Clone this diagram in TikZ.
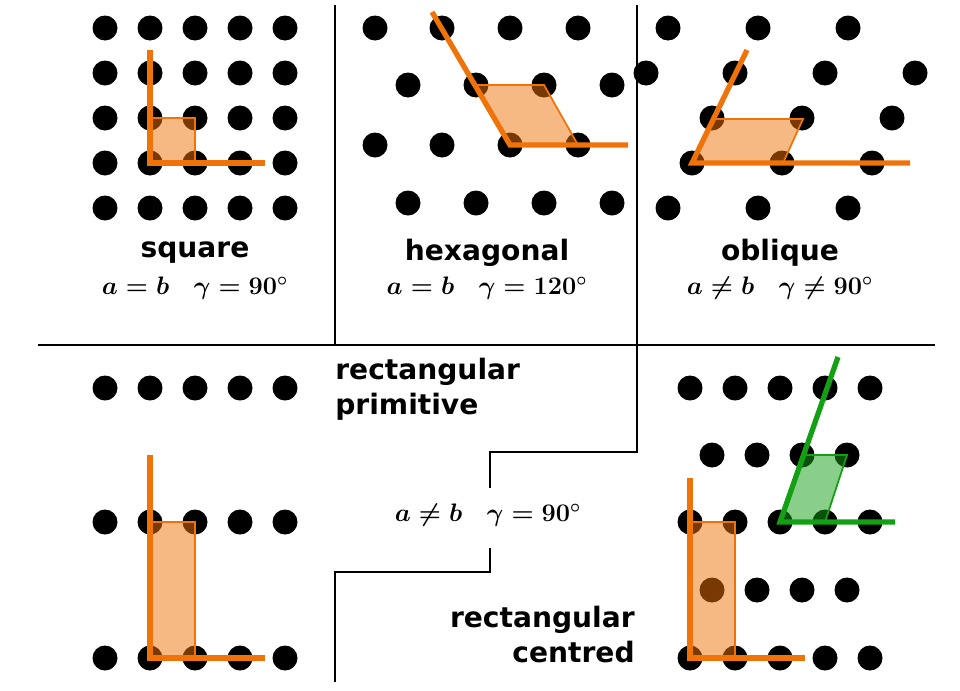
\documentclass[tikz,border=0pt]{standalone}
\usepackage{fontspec}
\setsansfont{DejaVu Sans}
\begin{document}
\begin{tikzpicture}[x=0.02cm,y=-0.02cm]
\definecolor{org}{RGB}{240,115,10}
\definecolor{grn}{RGB}{20,160,20}
\tikzset{dot/.style={fill=black},
 cell/.style={draw=org,line width=1pt,fill=org,fill opacity=0.5},
 gcell/.style={draw=grn,line width=1pt,fill=grn,fill opacity=0.5},
 axis/.style={draw=org,line width=3pt},
 gaxis/.style={draw=grn,line width=3pt},
 frame/.style={line width=0.8pt},
 title/.style={font=\sffamily\bfseries\fontsize{16}{20}\selectfont},
 eq/.style={font=\boldmath\fontsize{14}{16}\selectfont}}
\useasboundingbox (0,0) rectangle (960,690);
\def\R{12.5}
% square
\foreach \x in {105,150,195,240,285} \foreach \y in {28,73,118,163,208} \fill[dot] (\x,\y) circle (\R);
\path[cell] (150,118) rectangle (195,163);
\draw[axis] (150,50) -- (150,163) -- (265,163);
\node[title] (sq) at (195,253) {square};
\node[eq] (sqe) at (195,288) {$a=b\quad\gamma=90^\circ$};
% hexagonal
\foreach \x in {375,442,510,578} \foreach \y in {28,145} \fill[dot] (\x,\y) circle (\R);
\foreach \x in {408,476,544,612} \foreach \y in {85,203} \fill[dot] (\x,\y) circle (\R);
\path[cell] (510,145) -- (578,145) -- (544,85) -- (476,85) -- cycle;
\draw[axis] (432,12) -- (510,145) -- (628,145);
\node[title] (hx) at (487,253) {hexagonal};
\node[eq] (hxe) at (487,288) {$a=b\quad\gamma=120^\circ$};
% oblique
\foreach \x in {668,758,848} \foreach \y in {28,208} \fill[dot] (\x,\y) circle (\R);
\foreach \x in {646,735,825,915} \fill[dot] (\x,73) circle (\R);
\foreach \x in {712,802,892} \fill[dot] (\x,118) circle (\R);
\foreach \x in {692,782,872} \fill[dot] (\x,163) circle (\R);
\path[cell] (692,163) -- (783,163) -- (803,119) -- (714,119) -- cycle;
\draw[axis] (747,50) -- (692,163) -- (910,163);
\node[title] (ob) at (780,253) {oblique};
\node[eq] (obe) at (780,288) {$a\neq b\quad\gamma\neq90^\circ$};
% frames
\draw[frame] (335,5) -- (335,345);
\draw[frame] (637,5) -- (637,345);
\draw[frame] (38,345) -- (935,345);
\draw[frame] (637,345) -- (637,452) -- (490,452) -- (490,488);
\draw[frame] (490,548) -- (490,572) -- (335,572) -- (335,682);
% rectangular primitive
\foreach \x in {105,150,195,240,285} \foreach \y in {388,522,658} \fill[dot] (\x,\y) circle (\R);
\path[cell] (150,522) rectangle (195,658);
\draw[axis] (150,455) -- (150,658) -- (265,658);
\node[title,align=left,anchor=north west,inner sep=0pt] (rp) at (335,358) {rectangular\\primitive};
\node[eq] (rpe) at (488,515) {$a\neq b\quad\gamma=90^\circ$};
% rectangular centred
\foreach \x in {690,735,780,825,870} \foreach \y in {388,522,658} \fill[dot] (\x,\y) circle (\R);
\foreach \x in {712,757,802,847} \foreach \y in {455,590} \fill[dot] (\x,\y) circle (\R);
\path[cell] (690,522) rectangle (735,658);
\draw[axis] (690,478) -- (690,658) -- (805,658);
\path[gcell] (780,522) -- (825,522) -- (847,455) -- (802,455) -- cycle;
\draw[gaxis] (838,357) -- (780,522) -- (895,522);
\node[title,align=right,anchor=north east,inner sep=0pt] (rc) at (635,606) {rectangular\\centred};
\end{tikzpicture}
\end{document}
